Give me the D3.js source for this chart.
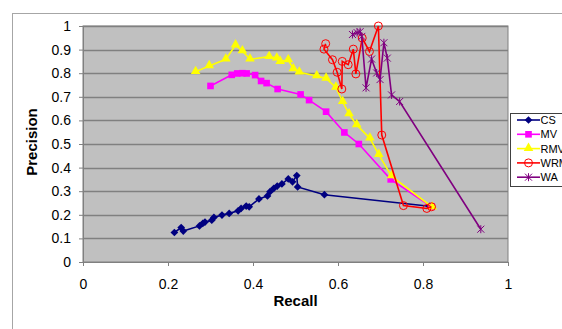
<!DOCTYPE html>
<html>
<head>
<meta charset="utf-8">
<script src="https://cdn.jsdelivr.net/npm/d3@7"></script>
<style>
  body { margin: 0; background: #fff; }
  svg { display: block; font-family: "Liberation Sans", Arial, sans-serif; }
</style>
</head>
<body>
<svg id="chart" width="562" height="329"></svg>
<script>
// series data (recall, precision)
var seriesNames = ["CS", "MV", "RMV", "WRM", "WA"];

var csRecall = [0.215, 0.231, 0.236, 0.274, 0.282, 0.287, 0.303, 0.308, 0.327, 0.344, 0.365, 0.372, 0.384, 0.391, 0.414, 0.434, 0.440, 0.449, 0.457, 0.468, 0.483, 0.493, 0.503, 0.505, 0.568, 0.815];
var csPrecision = [0.125, 0.146, 0.131, 0.153, 0.164, 0.169, 0.177, 0.189, 0.199, 0.206, 0.217, 0.227, 0.237, 0.234, 0.267, 0.280, 0.298, 0.312, 0.322, 0.331, 0.352, 0.340, 0.366, 0.318, 0.285, 0.236];

var mvRecall = [0.300, 0.350, 0.363, 0.375, 0.385, 0.405, 0.419, 0.432, 0.458, 0.512, 0.532, 0.572, 0.615, 0.649, 0.724, 0.820];
var mvPrecision = [0.746, 0.793, 0.799, 0.800, 0.799, 0.792, 0.767, 0.758, 0.733, 0.710, 0.686, 0.637, 0.549, 0.500, 0.350, 0.234];

var rmvRecall = [0.265, 0.297, 0.336, 0.359, 0.375, 0.393, 0.438, 0.456, 0.464, 0.483, 0.495, 0.509, 0.550, 0.572, 0.595, 0.611, 0.626, 0.644, 0.675, 0.696, 0.726, 0.822];
var rmvPrecision = [0.806, 0.831, 0.859, 0.919, 0.894, 0.859, 0.870, 0.863, 0.849, 0.856, 0.818, 0.804, 0.788, 0.778, 0.740, 0.679, 0.627, 0.581, 0.524, 0.455, 0.364, 0.232];

var wrmRecall = [0.571, 0.567, 0.587, 0.598, 0.609, 0.610, 0.624, 0.636, 0.642, 0.657, 0.674, 0.695, 0.703, 0.754, 0.809, 0.820];
var wrmPrecision = [0.925, 0.902, 0.857, 0.804, 0.733, 0.850, 0.836, 0.902, 0.797, 0.949, 0.892, 1.000, 0.538, 0.239, 0.227, 0.234];

var waRecall = [0.634, 0.645, 0.652, 0.656, 0.666, 0.679, 0.691, 0.699, 0.708, 0.716, 0.726, 0.745, 0.936];
var waPrecision = [0.964, 0.972, 0.976, 0.956, 0.738, 0.860, 0.801, 0.773, 0.929, 0.864, 0.708, 0.680, 0.139];

var xTicks = [0, 0.2, 0.4, 0.6, 0.8, 1];
var yTicks = [0, 0.1, 0.2, 0.3, 0.4, 0.5, 0.6, 0.7, 0.8, 0.9, 1];

var svg = d3.select("#chart");

// outer chart border
svg.append("rect")
    .attr("x", 12.5).attr("y", 13.5)
    .attr("width", 600).attr("height", 400)
    .attr("fill", "#fff")
    .attr("stroke", "#a6a6a6");

var plotLeft = 83, plotRight = 508, plotTop = 26, plotBottom = 262;
var x = d3.scaleLinear().domain([0, 1]).range([plotLeft, plotRight]);
var y = d3.scaleLinear().domain([0, 1]).range([plotBottom, plotTop]);

// plot area
svg.append("rect")
    .attr("x", plotLeft).attr("y", plotTop)
    .attr("width", plotRight - plotLeft).attr("height", plotBottom - plotTop)
    .attr("fill", "#c0c0c0")
    .attr("stroke", "#808080");

// gridlines
svg.append("g").selectAll("line")
    .data(yTicks.slice(1))
    .enter().append("line")
    .attr("x1", plotLeft).attr("x2", plotRight)
    .attr("y1", function (d) { return Math.round(y(d)) + 0.5; })
    .attr("y2", function (d) { return Math.round(y(d)) + 0.5; })
    .attr("stroke", "#808080")
    .attr("stroke-width", 1.5);

// axes
var yAxis = svg.append("g")
    .attr("transform", "translate(" + plotLeft + ",0)")
    .call(d3.axisLeft(y).tickValues(yTicks).tickSize(4).tickPadding(8)
        .tickFormat(function (d) { return d3.format("")(d); }));
var xAxis = svg.append("g")
    .attr("transform", "translate(0," + plotBottom + ")")
    .call(d3.axisBottom(x).tickValues(xTicks).tickSize(4).tickPadding(13)
        .tickFormat(function (d) { return d3.format("")(d); }));

[xAxis, yAxis].forEach(function (a) {
    a.select(".domain").attr("stroke", "#808080");
    a.selectAll(".tick line").attr("stroke", "#808080");
    a.selectAll(".tick text")
        .attr("fill", "#000")
        .style("font-size", "14px")
        .style("font-family", "'Liberation Sans', Arial, sans-serif");
});

// axis titles
svg.append("text")
    .attr("x", (plotLeft + plotRight) / 2).attr("y", 306)
    .attr("text-anchor", "middle")
    .style("font-size", "15px").style("font-weight", "bold")
    .text("Recall");
svg.append("text")
    .attr("transform", "translate(37," + ((plotTop + plotBottom) / 2 - 2) + ") rotate(-90)")
    .attr("text-anchor", "middle")
    .style("font-size", "15px").style("font-weight", "bold")
    .text("Precision");

// markers
var starPath = "M-3.5,-3.5L3.5,3.5M-3.5,3.5L3.5,-3.5M0,-4L0,4";

function drawMarker(g, name, cx, cy) {
    if (name === "CS") {
        g.append("path").attr("d", d3.symbol(d3.symbolSquare, 30)())
            .attr("transform", "translate(" + cx + "," + cy + ") rotate(45)")
            .attr("fill", "#000080");
    } else if (name === "MV") {
        g.append("path").attr("d", d3.symbol(d3.symbolSquare, 44)())
            .attr("transform", "translate(" + cx + "," + cy + ")")
            .attr("fill", "#ff00ff");
    } else if (name === "RMV") {
        g.append("path").attr("d", d3.symbol(d3.symbolTriangle, 40)())
            .attr("transform", "translate(" + cx + "," + (cy - 0.5) + ")")
            .attr("fill", "#ffff00");
    } else if (name === "WRM") {
        g.append("circle").attr("cx", cx).attr("cy", cy).attr("r", 4)
            .attr("fill", "none").attr("stroke", "#ff0000").attr("stroke-width", 1);
    } else {
        g.append("path").attr("d", starPath)
            .attr("transform", "translate(" + cx + "," + cy + ")")
            .attr("fill", "none").attr("stroke", "#800080").attr("stroke-width", 1);
    }
}

var colors = {CS: "#000080", MV: "#ff00ff", RMV: "#ffff00", WRM: "#ff0000", WA: "#800080"};
var allData = {
    CS: [csRecall, csPrecision],
    MV: [mvRecall, mvPrecision],
    RMV: [rmvRecall, rmvPrecision],
    WRM: [wrmRecall, wrmPrecision],
    WA: [waRecall, waPrecision]
};

var line = d3.line()
    .x(function (d) { return x(d[0]); })
    .y(function (d) { return y(d[1]); });

seriesNames.forEach(function (name) {
    var pts = d3.zip(allData[name][0], allData[name][1]);
    var g = svg.append("g");
    g.append("path").datum(pts)
        .attr("d", line)
        .attr("fill", "none")
        .attr("stroke", colors[name])
        .attr("stroke-width", 1.6);
    pts.forEach(function (p) {
        drawMarker(g, name, x(p[0]), y(p[1]));
    });
});

// legend
var legend = svg.append("g");
legend.append("rect")
    .attr("x", 510.5).attr("y", 113.5)
    .attr("width", 80).attr("height", 73)
    .attr("fill", "#fff").attr("stroke", "#404040");
seriesNames.forEach(function (name, i) {
    var ly = 120 + i * 14.3;
    legend.append("line")
        .attr("x1", 517).attr("x2", 540)
        .attr("y1", ly).attr("y2", ly)
        .attr("stroke", colors[name]).attr("stroke-width", 1.6);
    drawMarker(legend, name, 528.5, ly);
    legend.append("text")
        .attr("x", 540.5).attr("y", ly + 4)
        .style("font-size", "11px")
        .text(name);
});
</script>
</body>
</html>
